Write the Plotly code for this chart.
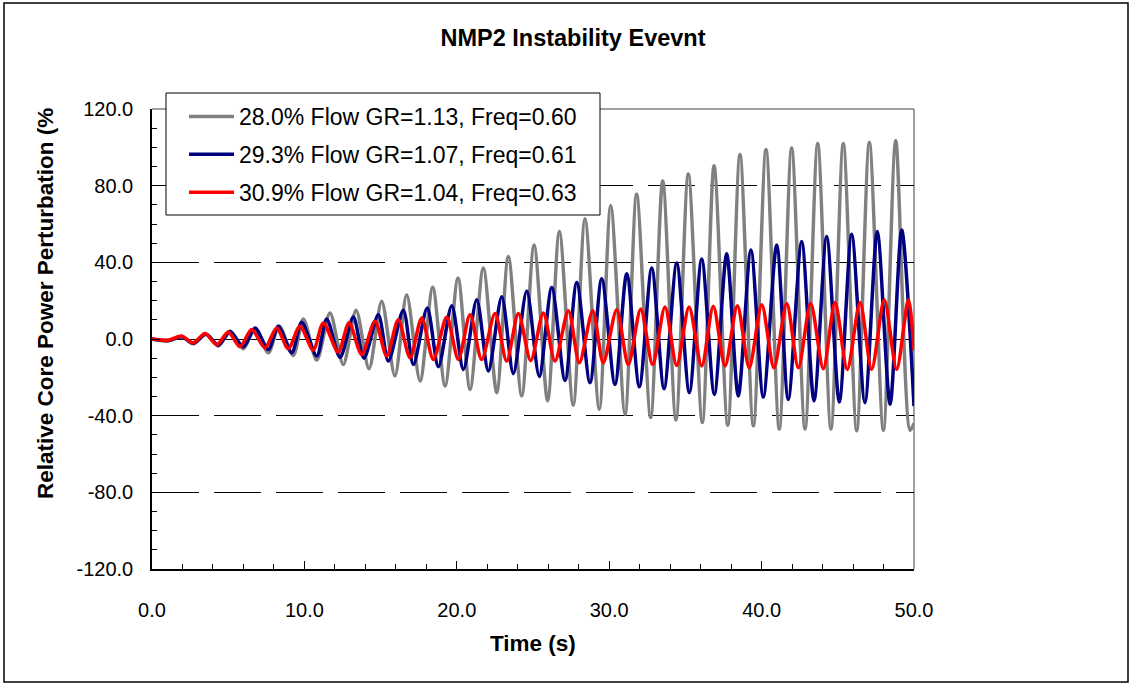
import plotly.graph_objects as go

# ---------------- data ----------------
gray_t = [0, 1.07, 1.95, 2.71, 3.54, 4.35, 5.12, 5.99, 6.76, 7.63,
          8.35, 9.27, 9.93, 10.81, 11.68, 12.55, 13.39, 14.24, 15.07, 15.94,
          16.71, 17.59, 18.42, 19.23, 20.08, 20.87, 21.74, 22.62, 23.38, 24.26,
          25.07, 25.96, 26.73, 27.64, 28.41, 29.35, 30.10, 31.04, 31.80, 32.72,
          33.51, 34.38, 35.19, 36.11, 36.88, 37.78, 38.58, 39.46, 40.29, 41.16,
          41.97, 42.85, 43.68, 44.55, 45.36, 46.24, 47.07, 47.99, 48.80, 49.74,
          50.00]
gray_v = [0, -1.1, 1.1, -2.5, 2.3, -3.7, 3.5, -5.1, 5.3, -7.2,
          6.7, -8.6, 10.5, -11, 13.6, -13.3, 15, -15.5, 19.7, -19.3,
          23.1, -21.9, 27, -24.5, 31.8, -26.3, 37, -28, 43, -29.7,
          49, -32.3, 56.1, -34.6, 62.7, -36.7, 69.6, -39.3, 75.5, -41,
          82.4, -42.2, 86.1, -43.6, 90.4, -45, 96.3, -45.3, 98.9, -47,
          99.7, -47, 102, -47, 102, -47.9, 102.5, -47.6, 103.4, -47.6,
          -44]

blue_t = [0, 1.07, 1.95, 2.71, 3.54, 4.35, 5.12, 5.99, 6.76, 7.63,
          8.29, 9.17, 9.82, 10.81, 11.46, 12.34, 13.21, 13.91, 14.85, 15.51,
          16.49, 17.15, 18.06, 18.79, 19.67, 20.43, 21.31, 22.07, 22.95, 23.71,
          24.59, 25.41, 26.23, 27.10, 27.87, 28.74, 29.51, 30.38, 31.15, 31.98,
          32.79, 33.60, 34.43, 35.26, 36.07, 36.90, 37.71, 38.47, 39.30, 40.11,
          40.99, 41.75, 42.63, 43.44, 44.27, 45.10, 45.91, 46.78, 47.59, 48.43,
          49.19, 50.00]
blue_v = [0, -0.8, 1.3, -2.2, 2.6, -3.2, 4.1, -4.1, 5.8, -5.5,
          6.7, -7.2, 8.7, -8.9, 10.5, -9.6, 11.5, -10, 12.7, -11.5,
          15, -13.3, 16.2, -14.5, 17.4, -15.9, 20.5, -16.7, 22, -18.1,
          25, -19.5, 26.9, -21.6, 29.5, -22.8, 31.5, -23.7, 34.1, -24.9,
          37, -25.9, 39.6, -28, 41.7, -28.9, 44.5, -29.7, 46.5, -30.3,
          49.1, -31.5, 50.9, -32.3, 53.5, -32.9, 54.7, -33.2, 56.1, -34.1,
          56.9, -35]

red_t = [0, 1.07, 1.95, 2.71, 3.48, 4.25, 5.01, 5.77, 6.54, 7.41,
         8.18, 8.94, 9.71, 10.58, 11.24, 12.22, 12.93, 13.76, 14.63, 15.40,
         16.16, 16.93, 17.70, 18.46, 19.34, 20.10, 20.87, 21.63, 22.51, 23.27,
         24.04, 24.85, 25.68, 26.44, 27.32, 28.04, 28.92, 29.61, 30.49, 31.25,
         32.07, 32.85, 33.66, 34.43, 35.24, 36.07, 36.83, 37.60, 38.41, 39.19,
         40.01, 40.81, 41.65, 42.41, 43.22, 44.05, 44.82, 45.62, 46.46, 47.22,
         48.05, 48.86, 49.63, 50.00]
red_v = [0, -0.6, 1.5, -2, 2.9, -2.9, 3.7, -4.1, 4.9, -4.6,
         5.8, -5.1, 6.7, -5.8, 8.4, -6.8, 8.5, -8.1, 9.3, -8.9,
         10.1, -9.8, 11, -10.7, 11.5, -10.7, 12.7, -10.7, 13.3, -11.5,
         13.3, -11.3, 13.6, -11.5, 14.8, -12.4, 14.8, -12.4, 15.3, -13.3,
         15.7, -13.3, 16.7, -13.8, 16.7, -14.1, 17.1, -14.1, 17.4, -15,
         17.9, -15, 18.5, -15, 18.5, -15.5, 19.1, -15.9, 19.1, -15.9,
         20.5, -15.9, 20.5, -6]

series_names = ["28.0% Flow GR=1.13, Freq=0.60",
                "29.3% Flow GR=1.07, Freq=0.61",
                "30.9% Flow GR=1.04, Freq=0.63"]
series_colors = ["#808080", "#000080", "#FF0000"]

x_ticks = [0, 10, 20, 30, 40, 50]
y_ticks = [-120, -80, -40, 0, 40, 80, 120]

title_text = "NMP2 Instability Evevnt"
x_title = "Time (s)"
y_title = "Relative Core Power Perturbation (%"

# ---------------- figure ----------------
W, H = 1132, 685
L, R, T, B = 152, 914, 109, 569   # plot area in pixels
FONT = "Liberation Sans, Arial, sans-serif"

def px(xp):
    return (xp - L) / (R - L)

def py(yp):
    return (B - yp) / (B - T)

fig = go.Figure()
for i, (t, v) in enumerate([(gray_t, gray_v), (blue_t, blue_v), (red_t, red_v)]):
    fig.add_trace(go.Scatter(
        x=t, y=v, mode="lines", name=series_names[i],
        legendgroup=f"g{i}",
        line=dict(color=series_colors[i], width=3.5, shape="spline", smoothing=0.8),
    ))

fig.update_layout(
    width=W, height=H,
    margin=dict(l=L, r=W - R, t=T, b=H - B, autoexpand=False),
    paper_bgcolor="white", plot_bgcolor="white",
    font=dict(family=FONT, size=20, color="black"),
    showlegend=True,
    legend=dict(
        x=px(184), y=py(95), xanchor="left", yanchor="top",
        bgcolor="rgba(0,0,0,0)", borderwidth=0,
        font=dict(family=FONT, size=23, color="black"),
        tracegroupgap=5, itemwidth=45,
    ),
    title=dict(text="<b>" + title_text + "</b>", x=573 / W, xref="container",
               y=1 - 38 / H, yref="container", xanchor="center", yanchor="middle",
               font=dict(family=FONT, size=23.5, color="black")),
)

fig.update_xaxes(
    range=[0, 50], tickvals=x_ticks, ticktext=[f"{v:.1f}" for v in x_ticks],
    showgrid=False, zeroline=False,
    showline=True, linecolor="black", linewidth=1.5,
    ticks="inside", ticklen=8, tickcolor="black", tickwidth=1,
    minor=dict(dtick=2, ticks="inside", ticklen=5, tickcolor="black", tickwidth=1, showgrid=False),
    tickfont=dict(family=FONT, size=20), ticklabelstandoff=22,
)
fig.update_yaxes(
    range=[-120, 120], tickvals=y_ticks, ticktext=[f"{v:.1f}" for v in y_ticks],
    showgrid=True, gridcolor="black", gridwidth=1, griddash="47px,15px",
    zeroline=False,
    showline=True, linecolor="black", linewidth=1.5,
    ticks="inside", ticklen=8, tickcolor="black", tickwidth=1,
    minor=dict(dtick=10, ticks="inside", ticklen=5, tickcolor="black", tickwidth=1, showgrid=False),
    tickfont=dict(family=FONT, size=20), ticklabelstandoff=13,
)

# gray frame on top/right of plot area
fig.add_shape(type="line", xref="paper", yref="paper", x0=0, x1=1, y0=1, y1=1,
              line=dict(color="#808080", width=1.5), layer="below")
fig.add_shape(type="line", xref="paper", yref="paper", x0=1, x1=1, y0=0, y1=1,
              line=dict(color="#808080", width=1.5), layer="below")
# outer chart border
fig.add_shape(type="rect", xref="paper", yref="paper",
              x0=px(4), x1=px(1128), y0=py(682), y1=py(3),
              line=dict(color="black", width=1.5), layer="below")
# legend box (drawn above the traces, legend entries sit on top of it)
fig.add_shape(type="rect", xref="paper", yref="paper",
              x0=px(166), x1=px(600), y0=py(215), y1=py(93),
              line=dict(color="black", width=1), fillcolor="white", layer="above")

# axis titles
fig.add_annotation(text="<b>" + x_title + "</b>", xref="paper", yref="paper",
                   x=px(533), y=py(643), xanchor="center", yanchor="middle",
                   showarrow=False, font=dict(family=FONT, size=22.5))
fig.add_annotation(text="<b>" + y_title + "</b>", xref="paper", yref="paper",
                   x=px(45), y=py(304), xanchor="center", yanchor="middle",
                   textangle=-90, showarrow=False, font=dict(family=FONT, size=22.5))

fig.write_html("out.html")
